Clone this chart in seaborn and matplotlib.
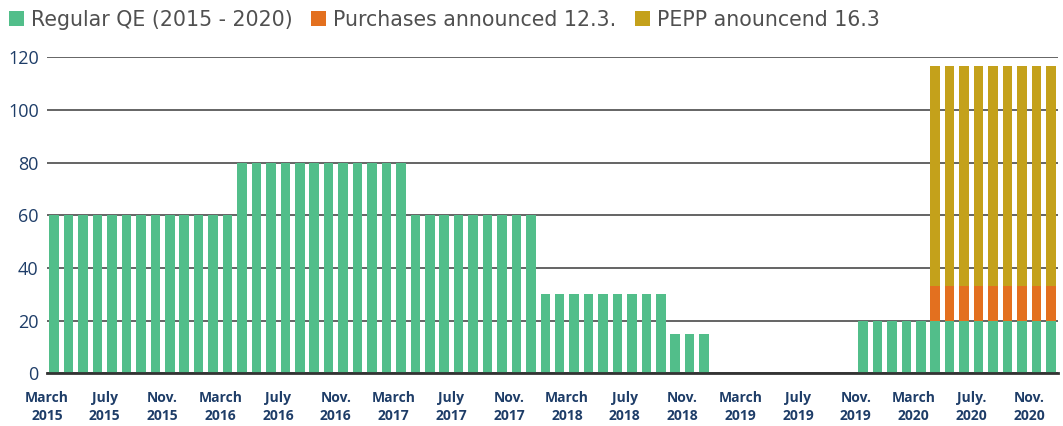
import numpy as np
import pandas as pd
import matplotlib.pyplot as plt
import seaborn as sns
from matplotlib.patches import Patch

sns.set_style('white')
plt.rcParams['font.family'] = ['Open Sans', 'DejaVu Sans']

# Monthly net purchases (EUR bn), March 2015 - December 2020
months = [
    '2015-03', '2015-04', '2015-05', '2015-06', '2015-07', '2015-08', '2015-09', '2015-10', '2015-11', '2015-12',
    '2016-01', '2016-02', '2016-03', '2016-04', '2016-05', '2016-06', '2016-07', '2016-08', '2016-09', '2016-10', '2016-11', '2016-12',
    '2017-01', '2017-02', '2017-03', '2017-04', '2017-05', '2017-06', '2017-07', '2017-08', '2017-09', '2017-10', '2017-11', '2017-12',
    '2018-01', '2018-02', '2018-03', '2018-04', '2018-05', '2018-06', '2018-07', '2018-08', '2018-09', '2018-10', '2018-11', '2018-12',
    '2019-01', '2019-02', '2019-03', '2019-04', '2019-05', '2019-06', '2019-07', '2019-08', '2019-09', '2019-10', '2019-11', '2019-12',
    '2020-01', '2020-02', '2020-03', '2020-04', '2020-05', '2020-06', '2020-07', '2020-08', '2020-09', '2020-10', '2020-11', '2020-12',
]
regular_qe = [
    60, 60, 60, 60, 60, 60, 60, 60, 60, 60,
    60, 60, 60, 80, 80, 80, 80, 80, 80, 80, 80, 80,
    80, 80, 80, 60, 60, 60, 60, 60, 60, 60, 60, 60,
    30, 30, 30, 30, 30, 30, 30, 30, 30, 15, 15, 15,
    0, 0, 0, 0, 0, 0, 0, 0, 0, 0, 20, 20,
    20, 20, 20, 20, 20, 20, 20, 20, 20, 20, 20, 20,
]
# extra programmes only run Apr - Dec 2020
extra_months = ['2020-04', '2020-05', '2020-06', '2020-07', '2020-08', '2020-09', '2020-10', '2020-11', '2020-12']
purchases_12_3 = [13.3, 13.3, 13.3, 13.3, 13.3, 13.3, 13.3, 13.3, 13.3]
pepp_16_3 = [83.4, 83.4, 83.4, 83.4, 83.4, 83.4, 83.4, 83.4, 83.4]

tick_labels = ['March\n2015', 'July\n2015', 'Nov.\n2015', 'March\n2016', 'July\n2016', 'Nov.\n2016',
               'March\n2017', 'July\n2017', 'Nov.\n2017', 'March\n2018', 'July\n2018', 'Nov.\n2018',
               'March\n2019', 'July\n2019', 'Nov.\n2019', 'March\n2020', 'July.\n2020', 'Nov.\n2020']
legend_labels = ['Regular QE (2015 - 2020)', 'Purchases announced 12.3.', 'PEPP anouncend 16.3']

green = '#52BE8A'
orange = '#E3701F'
gold = '#C4A11B'
navy = '#1E3D68'

df = pd.DataFrame({'month': months, 'regular': regular_qe})
df['apr'] = df['month'].map(dict(zip(extra_months, purchases_12_3))).fillna(0)
df['pepp'] = df['month'].map(dict(zip(extra_months, pepp_16_3))).fillna(0)
df['level2'] = df['regular'] + df['apr']
df['level3'] = df['level2'] + df['pepp']

fig = plt.figure(figsize=(10.63, 4.26), dpi=100)
ax = fig.add_axes([47 / 1063, 1 - 373.3 / 426, 1011 / 1063, 316 / 426])

# draw stacked bars back to front
for col, c in [('level3', gold), ('level2', orange), ('regular', green)]:
    sns.barplot(data=df, x='month', y=col, order=months, color=c, saturation=1,
                width=0.66, errorbar=None, linewidth=0, ax=ax)

ax.set_xlim(-0.5, len(months) - 0.5)
ax.set_ylim(0, 120)
ax.set_yticks([0, 20, 40, 60, 80, 100, 120])
ax.set_xticks(np.arange(0, len(months), 4) - 0.5)
ax.set_xticklabels(tick_labels, fontsize=10, fontweight='bold', color=navy, linespacing=1.3)
ax.tick_params(axis='x', length=7, width=2, color='#333333', pad=6, direction='out')
ax.tick_params(axis='y', length=0, labelsize=13, labelcolor=navy, pad=6)
ax.set_xlabel('')
ax.set_ylabel('')

ax.set_axisbelow(True)
ax.yaxis.grid(True, color='#4a4a4a', linewidth=1.2)
for s in ['left', 'right', 'top']:
    ax.spines[s].set_visible(False)
ax.spines['bottom'].set_color('#333333')
ax.spines['bottom'].set_linewidth(2)

handles = [Patch(facecolor=c, edgecolor='none') for c in (green, orange, gold)]
fig.legend(handles, legend_labels, loc='center left', bbox_to_anchor=(9 / 1063, 1 - 20 / 426),
           ncol=3, frameon=False, prop={'family': 'DejaVu Sans', 'size': 14.8},
           handlelength=0.72, handleheight=0.72,
           handletextpad=0.35, columnspacing=0.9, borderpad=0, borderaxespad=0,
           labelcolor='#505050')

fig.savefig('out.png', dpi=100)
